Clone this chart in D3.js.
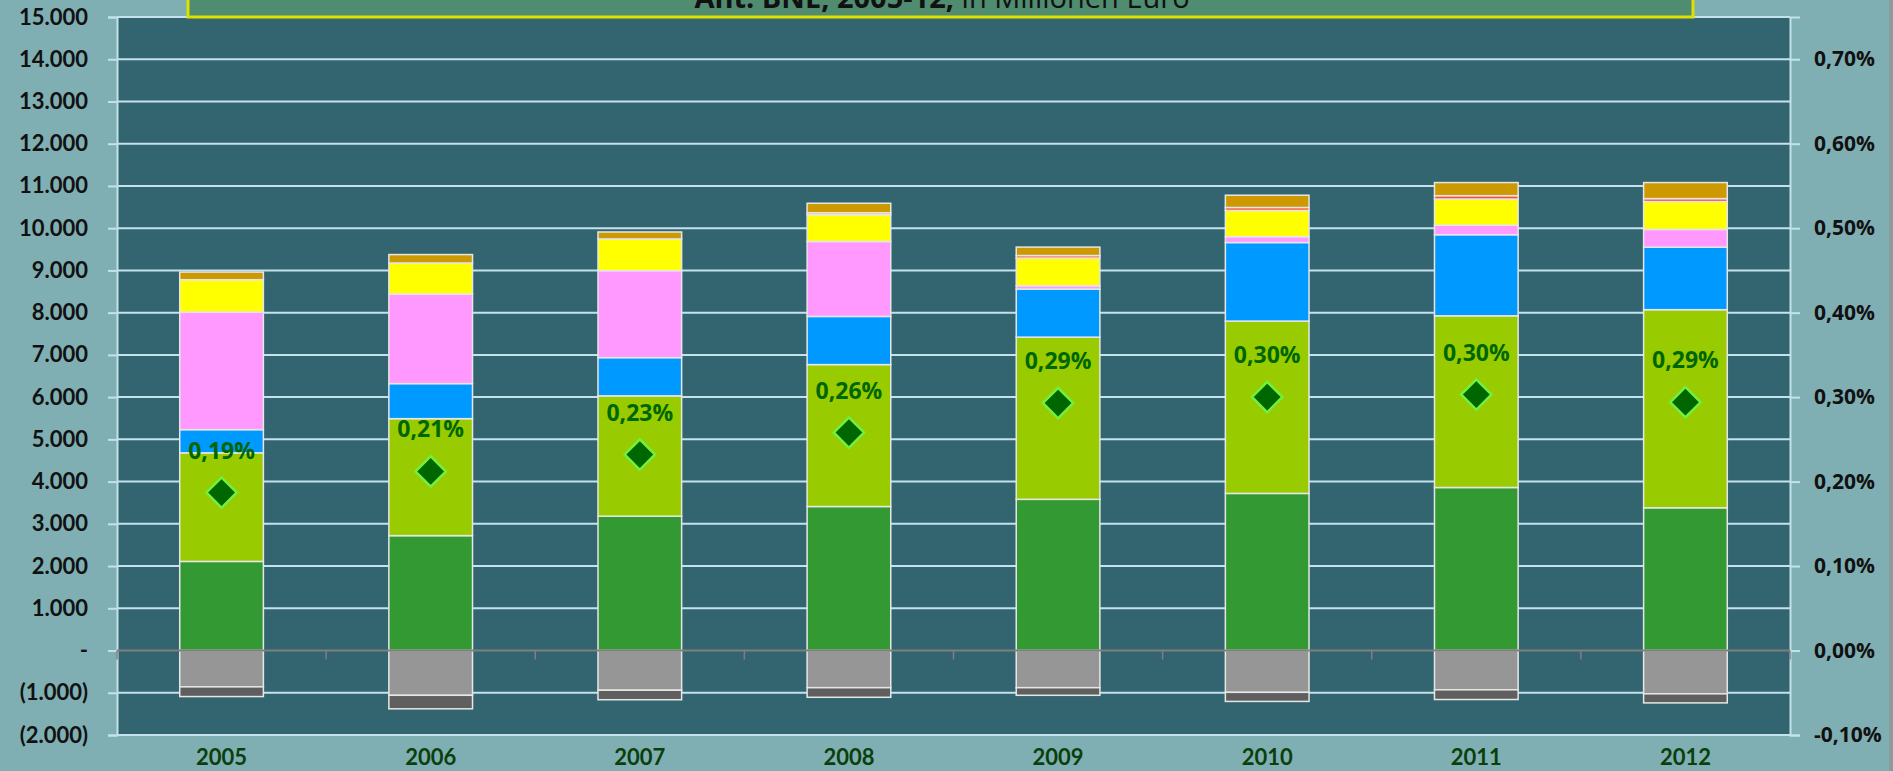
<!DOCTYPE html>
<html>
<head>
<meta charset="utf-8">
<script src="https://cdn.jsdelivr.net/npm/d3@7"></script>
<style>
  html, body { margin: 0; padding: 0; background: #7fafb3; overflow: hidden; }
  svg { display: block; }
</style>
</head>
<body>
<div id="chart"></div>
<script>
// Jahre (Kategorien)
const jahre = ['2005', '2006', '2007', '2008', '2009', '2010', '2011', '2012'];

// gestapelte Reihen, Mio. Euro (von unten nach oben)
const dunkelgruen = [2110, 2720, 3180, 3410, 3580, 3720, 3860, 3380];
const hellgruen   = [2570, 2770, 2850, 3360, 3840, 4080, 4065, 4690];
const blau        = [550, 830, 905, 1140, 1137, 1860, 1920, 1480];
const rosa        = [2785, 2120, 2060, 1775, 80, 140, 225, 420];
const gelb        = [765, 735, 750, 635, 655, 620, 620, 660];
const rot         = [0, 0, 0, 45, 60, 70, 80, 70];
const ocker       = [180, 200, 165, 225, 200, 290, 310, 380];
// negative Reihen
const grau        = [-860, -1060, -940, -880, -880, -990, -930, -1025];
const dunkelgrau  = [-230, -320, -225, -227, -180, -215, -230, -215];

// Quote in % (rechte Achse)
const quote = [0.187, 0.212, 0.232, 0.258, 0.293, 0.300, 0.303, 0.294];

// Achsenticks
const linksTicks = d3.range(-2000, 15001, 1000);
const rechtsTicks = [-0.1, 0, 0.1, 0.2, 0.3, 0.4, 0.5, 0.6, 0.7];

const reihen = [
  { key: 'dunkelgruen', werte: dunkelgruen, farbe: '#339933' },
  { key: 'hellgruen', werte: hellgruen, farbe: '#99cc00' },
  { key: 'blau', werte: blau, farbe: '#0099ff' },
  { key: 'rosa', werte: rosa, farbe: '#ff99ff' },
  { key: 'gelb', werte: gelb, farbe: '#ffff00' },
  { key: 'rot', werte: rot, farbe: '#ff4d33' },
  { key: 'ocker', werte: ocker, farbe: '#cc9900' },
  { key: 'grau', werte: grau, farbe: '#969696' },
  { key: 'dunkelgrau', werte: dunkelgrau, farbe: '#5f5f5f' }
];

// Tabelle fuer d3.stack bauen
const tabelle = jahre.map((j, i) => {
  const zeile = { jahr: j };
  reihen.forEach(r => { zeile[r.key] = r.werte[i]; });
  return zeile;
});

const W = 1893, H = 771;
const plot = { left: 117, right: 1790, top: 17, bottom: 735 };

const svg = d3.select('#chart').append('svg')
  .attr('width', W).attr('height', H);

svg.append('rect').attr('width', W).attr('height', H).attr('fill', '#7fafb3');
svg.append('rect').attr('x', 1889).attr('width', 4).attr('height', H).attr('fill', '#8f9a9c');

// Plotflaeche
svg.append('rect')
  .attr('x', plot.left).attr('y', plot.top)
  .attr('width', plot.right - plot.left).attr('height', plot.bottom - plot.top)
  .attr('fill', '#336570');

// Skalen
const x = d3.scaleBand().domain(jahre).range([plot.left, plot.right])
  .paddingInner(0.6).paddingOuter(0.3);
const y = d3.scaleLinear().domain([-2000, 15000]).range([plot.bottom, plot.top]);
const y2 = d3.scaleLinear().domain([-0.1, 0.75]).range([plot.bottom, plot.top]);

const loc = d3.formatLocale({ decimal: ',', thousands: '.', grouping: [3], currency: ['', '€'], minus: '-' });
const fmtTsd = loc.format(',.0f');
const fmtPct = loc.format('.2f');

// Gitterlinien
svg.append('g').selectAll('line')
  .data(linksTicks.filter(v => v !== 0))
  .join('line')
  .attr('x1', plot.left).attr('x2', plot.right)
  .attr('y1', d => y(d)).attr('y2', d => y(d))
  .attr('stroke', '#c4e2ec').attr('stroke-width', 2);

// linke Achse
const achseL = svg.append('g')
  .attr('transform', `translate(${plot.left},0)`)
  .call(d3.axisLeft(y).tickValues(linksTicks).tickSize(9).tickPadding(20)
    .tickFormat(v => v === 0 ? '-' : v < 0 ? `(${fmtTsd(-v)})` : fmtTsd(v)));
achseL.select('.domain').attr('stroke', '#c4e2ec').attr('stroke-width', 2);
achseL.selectAll('.tick line').attr('stroke', '#c4e2ec').attr('stroke-width', 2);
achseL.selectAll('text')
  .attr('fill', '#111').style('font-family', 'Lato, sans-serif')
  .style('font-weight', 'bold').style('font-size', '22px');

// rechte Achse
const achseR = svg.append('g')
  .attr('transform', `translate(${plot.right},0)`)
  .call(d3.axisRight(y2).tickValues(rechtsTicks).tickSize(10).tickPadding(14)
    .tickFormat(v => fmtPct(v) + '%'));
achseR.select('.domain').attr('stroke', '#c4e2ec').attr('stroke-width', 2);
achseR.selectAll('.tick line').attr('stroke', '#c4e2ec').attr('stroke-width', 2);
achseR.selectAll('text')
  .attr('fill', '#111').style('font-family', '"Open Sans", sans-serif')
  .style('font-weight', 'bold').style('font-size', '21px');

// Stapel
const stack = d3.stack()
  .keys(reihen.map(r => r.key))
  .offset(d3.stackOffsetDiverging);
const gestapelt = stack(tabelle);

const farbe = d3.scaleOrdinal().domain(reihen.map(r => r.key)).range(reihen.map(r => r.farbe));

svg.append('g').selectAll('g')
  .data(gestapelt)
  .join('g')
  .attr('fill', d => farbe(d.key))
  .selectAll('rect')
  .data(d => d.filter(s => s[1] !== s[0]))
  .join('rect')
  .attr('x', d => x(d.data.jahr))
  .attr('width', x.bandwidth())
  .attr('y', d => y(Math.max(d[0], d[1])))
  .attr('height', d => Math.abs(y(d[0]) - y(d[1])))
  .attr('stroke', '#e6e6e6').attr('stroke-width', 1.5);

// Nulllinie mit Kategorie-Ticks
svg.append('line')
  .attr('x1', plot.left).attr('x2', plot.right)
  .attr('y1', y(0)).attr('y2', y(0))
  .attr('stroke', '#7f7f7f').attr('stroke-width', 2);
const grenzen = d3.range(jahre.length + 1).map(i => plot.left + i * x.step());
svg.append('g').selectAll('line')
  .data(grenzen)
  .join('line')
  .attr('x1', d => d).attr('x2', d => d)
  .attr('y1', y(0)).attr('y2', y(0) + 9)
  .attr('stroke', '#7f7f7f').attr('stroke-width', 1.5);

// Jahreslabels
svg.append('g').selectAll('text')
  .data(jahre)
  .join('text')
  .attr('x', d => x(d) + x.bandwidth() / 2)
  .attr('y', 765)
  .attr('text-anchor', 'middle')
  .attr('fill', '#0b3f0b')
  .style('font-family', 'Lato, sans-serif').style('font-weight', 'bold').style('font-size', '22px')
  .text(d => d);

// Quote: Rauten + Labels
const rauten = svg.append('g');
rauten.selectAll('path')
  .data(quote)
  .join('path')
  .attr('d', d3.symbol(d3.symbolSquare, 460))
  .attr('transform', (d, i) => `translate(${x(jahre[i]) + x.bandwidth() / 2},${y2(d)}) rotate(45)`)
  .attr('fill', '#006600')
  .attr('stroke', '#70f040').attr('stroke-width', 2.5);

rauten.selectAll('text')
  .data(quote)
  .join('text')
  .attr('x', (d, i) => x(jahre[i]) + x.bandwidth() / 2)
  .attr('y', d => y2(d) - 34)
  .attr('text-anchor', 'middle')
  .attr('fill', '#006600')
  .style('font-family', '"Open Sans", sans-serif').style('font-weight', 'bold').style('font-size', '23px')
  .text(d => fmtPct(d) + '%');

// Titelkasten (oben abgeschnitten wie im Original)
svg.append('rect')
  .attr('x', 188).attr('y', -40).attr('width', 1505).attr('height', 57)
  .attr('fill', '#4f8c70').attr('stroke', '#e0e000').attr('stroke-width', 3);
const titel = svg.append('text')
  .attr('x', 942).attr('y', 8)
  .attr('text-anchor', 'middle')
  .attr('fill', '#111')
  .style('font-family', '"Open Sans", sans-serif').style('font-size', '29px');
titel.append('tspan').style('font-weight', 'bold').text('Ant. BNE, 2005-12, ');
titel.append('tspan').text('in Millionen Euro');
</script>
</body>
</html>
